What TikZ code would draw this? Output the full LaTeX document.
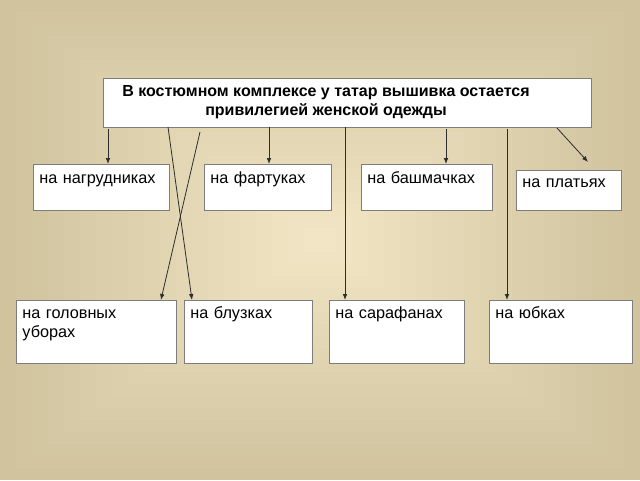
\documentclass[tikz,border=0pt]{standalone}
\usepackage{fontspec}
\setmainfont{Liberation Sans}
\usetikzlibrary{arrows.meta}

\definecolor{bgedge}{RGB}{208,195,158}
\definecolor{bgmid}{RGB}{243,231,199}
\definecolor{boxgray}{RGB}{125,125,125}
\definecolor{linegray}{RGB}{45,45,45}

\tikzset{
  box/.style={draw=boxgray, line width=.7pt, fill=white, anchor=north west, align=left,
    text width=#1, inner xsep=4.5pt, inner ysep=0pt, font=\fontsize{12.2}{14.3}\selectfont},
  top/.style={text height=14.25pt, text depth=20.25pt},
  low/.style={text height=13.5pt, text depth=33.75pt},
  arr/.style={linegray, line width=.6pt, -{Latex[length=4.5pt,width=3.5pt]}}
}

\begin{document}
\begin{tikzpicture}[x=.75pt, y=-.75pt]
\useasboundingbox (0,0) rectangle (640,480);
% background frames
\foreach \k in {0,...,19}
  \fill[bgmid!\the\numexpr\k*5\relax!bgedge] (\k*16,\k*12) rectangle (640-\k*16,480-\k*12);

% title
\node[draw=boxgray, line width=.7pt, fill=white, anchor=north west, inner sep=0pt,
  minimum width=366pt, minimum height=36.75pt] (title) at (103,78) {};
\node[align=center, font=\fontsize{12}{14.2}\selectfont\bfseries] (titletxt) at (326,102.5)
  {В костюмном комплексе у татар вышивка остается\\привилегией женской одежды};

% upper row
\node[box=93pt, top] (nagr) at (33,164) {на нагрудниках};
\node[box=86.25pt, top] (fart) at (204,164) {на фартуках};
\node[box=89.25pt, top] (bashm) at (361,164) {на башмачках};
\node[box=69.75pt, text height=12.75pt, text depth=17.25pt] (plat) at (516,170) {на платьях};

% lower row
\node[box=111pt, low] (golov) at (16,300) {на головных\\уборах};
\node[box=87pt, low] (bluz) at (184,300) {на блузках};
\node[box=92.25pt, low] (saraf) at (329,300) {на сарафанах};
\node[box=98.25pt, low] (yubk) at (489,300) {на юбках};

% connectors
\coordinate (s1) at (108,129);
\coordinate (s2) at (168,127);
\coordinate (s3) at (200,132);
\coordinate (s4) at (269,127);
\coordinate (s5) at (345,127);
\coordinate (s6) at (446,129);
\coordinate (s7) at (507,129);
\coordinate (s8) at (557,128);

\draw[arr] (s1) -- (s1 |- nagr.north);
\draw[arr] (s2) -- ([xshift=6pt]bluz.north west);
\draw[arr] (s3) -- ([xshift=-12pt]golov.north east);
\draw[arr] (s4) -- (s4 |- fart.north);
\draw[arr] (s5) -- (s5 |- saraf.north);
\draw[arr] (s6) -- (s6 |- bashm.north);
\draw[arr] (s7) -- (s7 |- yubk.north);
\draw[arr] (s8) -- ([shift={(72,-8)}]plat.north west);

\end{tikzpicture}
\end{document}
